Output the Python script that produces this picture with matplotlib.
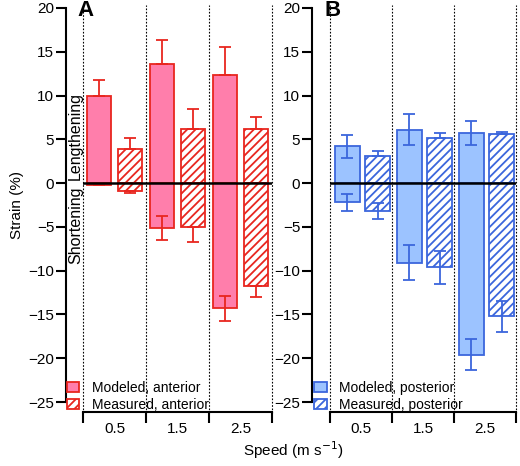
import numpy as np
import matplotlib
matplotlib.use("Agg")
import matplotlib.pyplot as plt
from matplotlib.patches import Patch

plt.rcParams["font.family"] = ["Liberation Sans", "DejaVu Sans"]
plt.rcParams["hatch.linewidth"] = 1.3

# ---------- data ----------
speeds = ["0.5", "1.5", "2.5"]

# panel A: anterior
mod_pos_A = [10.0, 13.6, 12.4]
mod_pos_A_err = [1.8, 2.8, 3.2]
mod_neg_A = [-0.2, -5.1, -14.3]
mod_neg_A_err = [0.0, 1.4, 1.45]
meas_pos_A = [3.9, 6.2, 6.2]
meas_pos_A_err = [1.3, 2.3, 1.3]
meas_neg_A = [-0.9, -5.0, -11.8]
meas_neg_A_err = [0.2, 1.7, 1.2]

# panel B: posterior
mod_pos_B = [4.2, 6.1, 5.7]
mod_pos_B_err = [1.3, 1.8, 1.4]
mod_neg_B = [-2.2, -9.1, -19.6]
mod_neg_B_err = [0.95, 2.0, 1.75]
meas_pos_B = [3.1, 5.2, 5.6]
meas_pos_B_err = [0.6, 0.5, 0.25]
meas_neg_B = [-3.2, -9.6, -15.2]
meas_neg_B_err = [0.9, 1.9, 1.75]

PINK, RED = "#ff7eab", "#e8261f"
LBLUE, BLUE = "#9cc3ff", "#3b66dc"
FS = 11


def errs(vals, err, side):
    """side: 'both', or 'up' = only away from zero"""
    err = np.array(err)
    zero = np.zeros_like(err)
    if side == "both":
        return [err, err]
    if np.mean(vals) >= 0:
        return [zero, err]
    return [err, zero]


def panel(ax, series, fill, edge, label, legend_names, width, outward):
    x = np.arange(len(speeds))
    for vals, err, side, hatched, off in series:
        if hatched:
            ax.bar(x + off, vals, width, facecolor="white", edgecolor=edge,
                   hatch="////", lw=1.3, zorder=3)
        else:
            ax.bar(x + off, vals, width, facecolor=fill, edgecolor=edge,
                   lw=1.3, zorder=3)
        ax.errorbar(x + off, vals, yerr=errs(vals, err, side), fmt="none",
                    ecolor=edge, elinewidth=1.3, capsize=4, capthick=1.3,
                    zorder=4)

    ax.axhline(0, color="black", lw=1.8, zorder=5)

    # dotted group separators
    for b in [-0.5, 0.5, 1.5, 2.5]:
        ax.plot([b, b], [-26.2, 20.3], ls=(0, (1.5, 1.5)), color="black",
                lw=0.8, clip_on=False, zorder=1)

    ax.set_xlim(-0.5, 2.5)
    ax.set_ylim(-25, 20)
    ax.set_yticks(np.arange(-25, 21, 5))
    ax.set_yticklabels([str(v).replace("-", "\u2212") for v in range(-25, 21, 5)])

    ax.set_xticks([-0.5, 0.5, 1.5, 2.5])
    ax.set_xticklabels([])
    ax.set_xticks(x, minor=True)
    ax.set_xticklabels(speeds, minor=True)
    ax.tick_params(axis="x", which="major", length=8, width=1.5, direction="out")
    ax.tick_params(axis="x", which="minor", length=0, labelsize=FS, pad=7)
    ax.tick_params(axis="y", length=7, width=1.5, labelsize=FS, pad=1.5)

    for s in ["top", "right"]:
        ax.spines[s].set_visible(False)
    ax.spines["left"].set_position(("outward", outward))
    ax.spines["bottom"].set_position(("outward", 7.2))
    ax.spines["left"].set_linewidth(1.5)
    ax.spines["bottom"].set_linewidth(1.5)

    ax.text(-0.46, 20.9, label, fontsize=16, fontweight="bold", va="top",
            ha="center", zorder=6)

    handles = [Patch(facecolor=fill, edgecolor=edge, lw=1.3),
               Patch(facecolor="white", edgecolor=edge, hatch="////", lw=1.3)]
    ax.legend(handles, legend_names, loc="lower left", frameon=False,
              bbox_to_anchor=(-0.085, -0.025), borderaxespad=0, borderpad=0,
              fontsize=10, handlelength=0.9, handleheight=0.7,
              handletextpad=0.9, labelspacing=0.2)


fig = plt.figure(figsize=(5.2, 4.66), dpi=100)
axA = fig.add_axes([83 / 520, 64 / 466, 189 / 520, 394 / 466])
axB = fig.add_axes([330 / 520, 64 / 466, 186 / 520, 394 / 466])

panel(axA,
      [(mod_pos_A, mod_pos_A_err, "up", False, -0.24),
       (mod_neg_A, mod_neg_A_err, "both", False, -0.24),
       (meas_pos_A, meas_pos_A_err, "up", True, 0.25),
       (meas_neg_A, meas_neg_A_err, "up", True, 0.25)],
      PINK, RED, "A", ["Modeled, anterior", "Measured, anterior"],
      0.38, 12.2)

panel(axB,
      [(mod_pos_B, mod_pos_B_err, "both", False, -0.22),
       (mod_neg_B, mod_neg_B_err, "both", False, -0.22),
       (meas_pos_B, meas_pos_B_err, "up", True, 0.27),
       (meas_neg_B, meas_neg_B_err, "both", True, 0.27)],
      LBLUE, BLUE, "B", ["Modeled, posterior", "Measured, posterior"],
      0.40, 13.0)

axA.set_ylabel("Strain (%)", fontsize=FS, labelpad=3)
axA.text(-0.62, 0.4, "Lengthening", rotation=90, ha="center", va="bottom",
         fontsize=11.5, zorder=6)
axA.text(-0.62, -0.4, "Shortening", rotation=90, ha="center", va="top",
         fontsize=11.5, zorder=6)

fig.text(293 / 520, 1 - 450 / 466, "Speed (m s$^{-1}$)", ha="center",
         va="center", fontsize=FS)

fig.savefig("out.png", dpi=100)
